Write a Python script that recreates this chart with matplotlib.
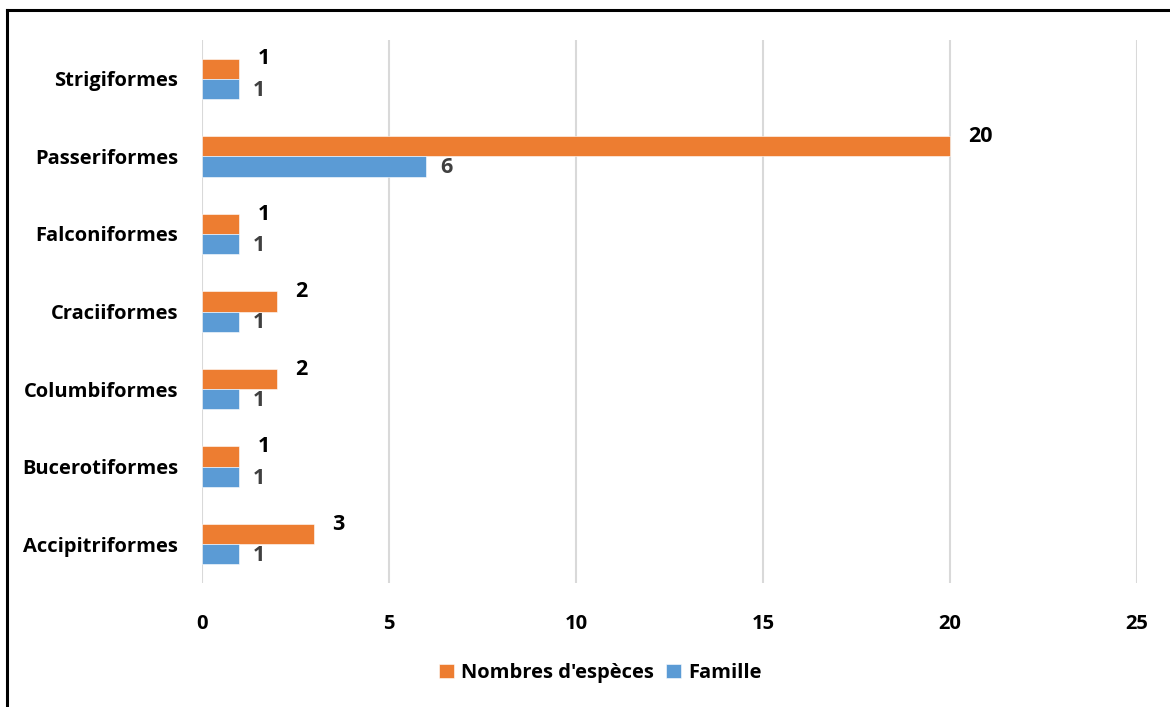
import numpy as np
import matplotlib.pyplot as plt
from matplotlib.lines import Line2D

# Ordres d'oiseaux : nombre d'espèces et de familles
ordres = ["Accipitriformes", "Bucerotiformes", "Columbiformes", "Craciiformes",
          "Falconiformes", "Passeriformes", "Strigiformes"]
especes = [3, 1, 2, 2, 1, 20, 1]
familles = [1, 1, 1, 1, 1, 6, 1]
xticks = [0, 5, 10, 15, 20, 25]

orange = "#ED7D31"
bleu = "#5B9BD5"

plt.rcParams["font.family"] = ["Open Sans", "DejaVu Sans"]
plt.rcParams["font.weight"] = "bold"

fig = plt.figure(figsize=(11.7, 7.07), dpi=100)
ax = fig.add_axes([0.1726, 0.1754, 0.7992, 0.768])

ind = np.arange(len(ordres))
h = 0.26
b1 = ax.barh(ind + h / 2, especes, h, color=orange, edgecolor="white", linewidth=0.4,
             label="Nombres d'espèces", zorder=3)
b2 = ax.barh(ind - h / 2, familles, h, color=bleu, edgecolor="white", linewidth=0.4,
             label="Famille", zorder=3)

for rect, v in zip(b1, especes):
    ax.annotate(str(v), (v, rect.get_y() + rect.get_height() / 2), xytext=(13, 7),
                textcoords="offset points", ha="left", va="center",
                fontsize=15.5, fontweight="bold", color="black")
for rect, v in zip(b2, familles):
    ax.annotate(str(v), (v, rect.get_y() + rect.get_height() / 2), xytext=(10, -1),
                textcoords="offset points", ha="left", va="center",
                fontsize=15.5, fontweight="bold", color="#404040")

ax.set_xlim(0, 25)
ax.set_ylim(-0.5, len(ordres) - 0.5)
ax.set_xticks(xticks)
ax.set_yticks(ind)
ax.set_yticklabels(ordres)
ax.tick_params(axis="both", length=0, labelsize=14.5)
ax.tick_params(axis="x", pad=22)
ax.tick_params(axis="y", pad=17)
for lbl in ax.get_xticklabels() + ax.get_yticklabels():
    lbl.set_fontweight("bold")
ax.grid(True, axis="x", color="#D9D9D9", linewidth=1.5, zorder=0)
for s in ax.spines.values():
    s.set_visible(False)

fig.legend(handles=[b1, b2], loc="center", bbox_to_anchor=(0.513, 0.048), ncol=2,
           frameon=False, prop={"size": 14.5, "weight": "bold"},
           handlelength=0.75, handleheight=0.75, handletextpad=0.35, columnspacing=0.6)

# cadre (bords gauche et haut)
fig.add_artist(Line2D([0.006, 0.006], [0, 0.986], transform=fig.transFigure,
                      color="black", linewidth=2.2))
fig.add_artist(Line2D([0.006, 1], [0.986, 0.986], transform=fig.transFigure,
                      color="black", linewidth=2.2))

fig.savefig("out.png", dpi=100)
